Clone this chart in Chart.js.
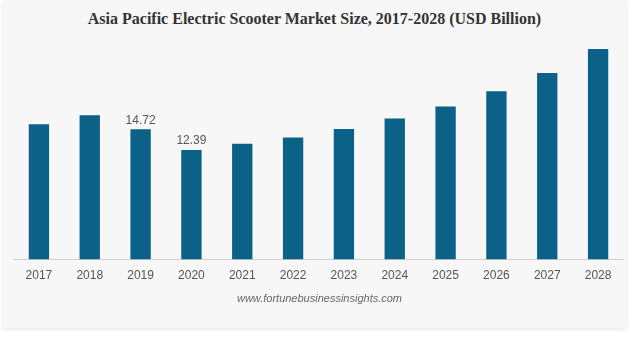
<!DOCTYPE html>
<html>
<head>
<meta charset="utf-8">
<script src="https://cdn.jsdelivr.net/npm/chart.js@4.4.0/dist/chart.umd.min.js"></script>
<style>
  body { margin: 0; background: #ffffff; width: 631px; height: 337px; overflow: hidden; }
  #card {
    position: absolute; left: 3px; top: 0; width: 623px; height: 328px;
    background: #f7f7f7; box-shadow: 0 1px 4px rgba(0,0,0,0.12);
  }
  #title {
    position: absolute; left: 0; top: 10px; width: 623px; text-align: center;
    font: bold 16px "Liberation Serif", "Times New Roman", serif; color: #333;
  }
  #source {
    position: absolute; left: 0; top: 292px; width: 633px; text-align: center;
    font: italic 11px "Liberation Sans", Arial, sans-serif; color: #666;
  }
  #wrap { position: absolute; left: 0; top: 40px; width: 623px; height: 254px; }
</style>
</head>
<body>
<div id="card">
  <div id="title">Asia Pacific Electric Scooter Market Size, 2017-2028 (USD Billion)</div>
  <div id="wrap"><canvas id="chart"></canvas></div>
  <div id="source">www.fortunebusinessinsights.com</div>
</div>
<script>
const years = ['2017','2018','2019','2020','2021','2022','2023','2024','2025','2026','2027','2028'];
const marketSize = [15.28, 16.30, 14.72, 12.39, 13.08, 13.80, 14.74, 15.93, 17.29, 19.00, 21.08, 23.78];
// only these two values are printed on the bars
const shownLabels = ['', '', '14.72', '12.39', '', '', '', '', '', '', '', ''];

// draws the value text above the bars that have one
const valueLabels = {
  id: 'valueLabels',
  afterDatasetsDraw(chart) {
    const ctx = chart.ctx;
    const meta = chart.getDatasetMeta(0);
    ctx.save();
    ctx.font = '12px "Liberation Sans", Arial, sans-serif';
    ctx.fillStyle = '#555555';
    ctx.textAlign = 'center';
    ctx.textBaseline = 'middle';
    meta.data.forEach((bar, i) => {
      if (shownLabels[i]) ctx.fillText(shownLabels[i], bar.x, bar.y - 9);
    });
    ctx.restore();
  }
};

const ctx = document.getElementById('chart').getContext('2d');
new Chart(ctx, {
  type: 'bar',
  data: {
    labels: years,
    datasets: [{
      data: marketSize,
      backgroundColor: '#0b6187',
      barPercentage: 0.4,
      categoryPercentage: 1
    }]
  },
  options: {
    responsive: true,
    maintainAspectRatio: false,
    animation: false,
    layout: { padding: { left: 10.5, right: 2.5, top: 0, bottom: 2 } },
    plugins: {
      legend: { display: false },
      tooltip: { enabled: false }
    },
    scales: {
      x: {
        grid: { display: false, drawTicks: false },
        border: { display: true, color: '#d0d0d0', width: 1 },
        ticks: {
          color: '#555555',
          padding: 9,
          font: { family: '"Liberation Sans", Arial, sans-serif', size: 12 }
        }
      },
      y: {
        display: false,
        min: 0,
        max: 24.8
      }
    }
  },
  plugins: [valueLabels]
});
</script>
</body>
</html>
